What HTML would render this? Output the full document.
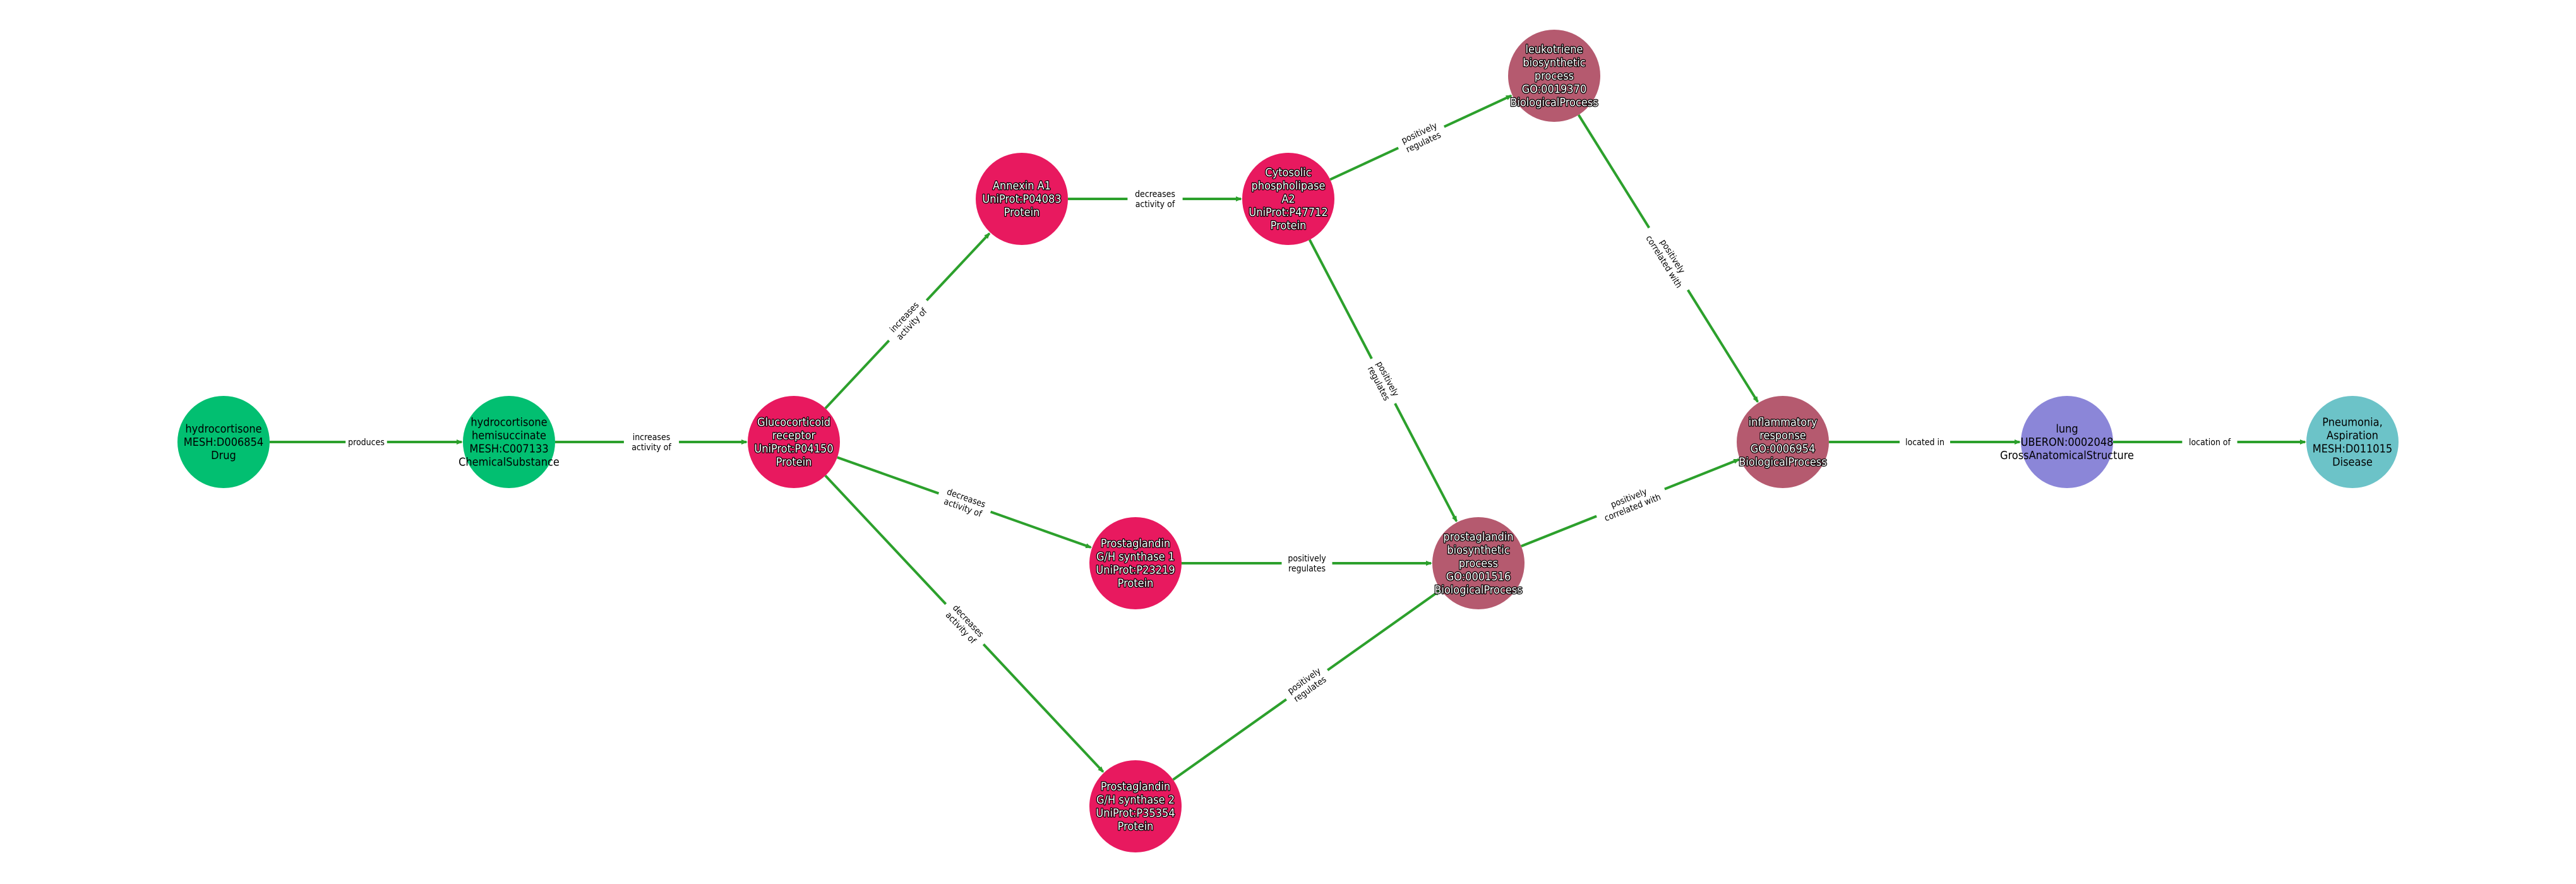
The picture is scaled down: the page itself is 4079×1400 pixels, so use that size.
<!DOCTYPE html>
<html><head><meta charset="utf-8">
<style>
html,body{margin:0;padding:0;background:#fff;}
svg{display:block;}
.nt{font-family:"DejaVu Sans Condensed","DejaVu Sans","Liberation Sans",sans-serif;font-size:18px;text-anchor:middle;}
.w{fill:#fff;stroke:#000;stroke-width:2.5px;paint-order:stroke;stroke-linejoin:round;}
.b{fill:#000;}
.el{font-family:"DejaVu Sans Condensed","DejaVu Sans","Liberation Sans",sans-serif;font-size:14px;text-anchor:middle;fill:#000;}
</style></head>
<body>
<svg id="g" width="4079" height="1400" viewBox="0 0 4079 1400" xmlns="http://www.w3.org/2000/svg">
<defs>
<marker id="ah" markerWidth="10" markerHeight="10" refX="8" refY="5" orient="auto" markerUnits="userSpaceOnUse" viewBox="0 0 10 10">
<path d="M0,1 L10,5 L0,9 z" fill="#2ca02c"/>
</marker>
</defs>
<g id="edges"></g>
<g id="labels"></g>
<g id="nodes"></g>
</svg>
<script>
var R=73;
var N={
 hc:[354,700,'#02bf71',['hydrocortisone','MESH:D006854','Drug'],'b'],
 hs:[806,700,'#02bf71',['hydrocortisone','hemisuccinate','MESH:C007133','ChemicalSubstance'],'b'],
 gr:[1257,700,'#e8195f',['Glucocorticoid','receptor','UniProt:P04150','Protein'],'w'],
 an:[1618,315,'#e8195f',['Annexin A1','UniProt:P04083','Protein'],'w'],
 cy:[2040,315,'#e8195f',['Cytosolic','phospholipase','A2','UniProt:P47712','Protein'],'w'],
 lk:[2461,120,'#b55a6f',['leukotriene','biosynthetic','process','GO:0019370','BiologicalProcess'],'w'],
 p1:[1798,892,'#e8195f',['Prostaglandin','G/H synthase 1','UniProt:P23219','Protein'],'w'],
 p2:[1798,1277,'#e8195f',['Prostaglandin','G/H synthase 2','UniProt:P35354','Protein'],'w'],
 pb:[2341,892,'#b55a6f',['prostaglandin','biosynthetic','process','GO:0001516','BiologicalProcess'],'w'],
 inf:[2823,700,'#b55a6f',['inflammatory','response','GO:0006954','BiologicalProcess'],'w'],
 lu:[3273,700,'#8b86d8',['lung','UBERON:0002048','GrossAnatomicalStructure'],'b'],
 pn:[3725,700,'#6cc3c8',['Pneumonia,','Aspiration','MESH:D011015','Disease'],'b']
};
var E=[
 ['hc','hs',['produces']],
 ['hs','gr',['increases','activity of']],
 ['gr','an',['increases','activity of']],
 ['gr','p1',['decreases','activity of']],
 ['gr','p2',['decreases','activity of']],
 ['an','cy',['decreases','activity of']],
 ['cy','lk',['positively','regulates']],
 ['cy','pb',['positively','regulates']],
 ['p1','pb',['positively','regulates']],
 ['p2','pb',['positively','regulates']],
 ['lk','inf',['positively','correlated with']],
 ['pb','inf',['positively','correlated with']],
 ['inf','lu',['located in']],
 ['lu','pn',['location of']]
];
var ns='http://www.w3.org/2000/svg';
function el(t,a,p){var e=document.createElementNS(ns,t);for(var k in a)e.setAttribute(k,a[k]);if(p)p.appendChild(e);return e;}
var ge=document.getElementById('edges'),gl=document.getElementById('labels'),gn=document.getElementById('nodes');
E.forEach(function(e){
 var a=N[e[0]],b=N[e[1]];var dx=b[0]-a[0],dy=b[1]-a[1],L=Math.sqrt(dx*dx+dy*dy);var ux=dx/L,uy=dy/L;
 el('line',{x1:a[0]+ux*R,y1:a[1]+uy*R,x2:b[0]-ux*(R+2),y2:b[1]-uy*(R+2),stroke:'#2ca02c','stroke-width':4,'marker-end':'url(#ah)'},ge);
 var mx=(a[0]+b[0])/2,my=(a[1]+b[1])/2;var ang=Math.atan2(dy,dx)*180/Math.PI;if(ang>90)ang-=180;if(ang<-90)ang+=180;
 var g=el('g',{transform:'translate('+mx+','+my+') rotate('+ang+')'},gl);
 var n=e[2].length;var w=0;e[2].forEach(function(s){w=Math.max(w,s.length*7.2);});
 el('rect',{x:-w/2-4,y:-n*8-2,width:w+8,height:n*16+4,fill:'#fff'},g);
 e[2].forEach(function(s,i){var t=el('text',{x:0,y:(i-(n-1)/2)*16+5,'class':'el'},g);t.textContent=s;});
});
for(var k in N){var d=N[k];
 el('circle',{cx:d[0],cy:d[1],r:R,fill:d[2]},gn);
 var n=d[3].length;
 d[3].forEach(function(s,i){var t=el('text',{x:d[0],y:d[1]+(i-(n-1)/2)*21+6,'class':'nt '+d[4]},gn);t.textContent=s;});
}
</script>
</body></html>
